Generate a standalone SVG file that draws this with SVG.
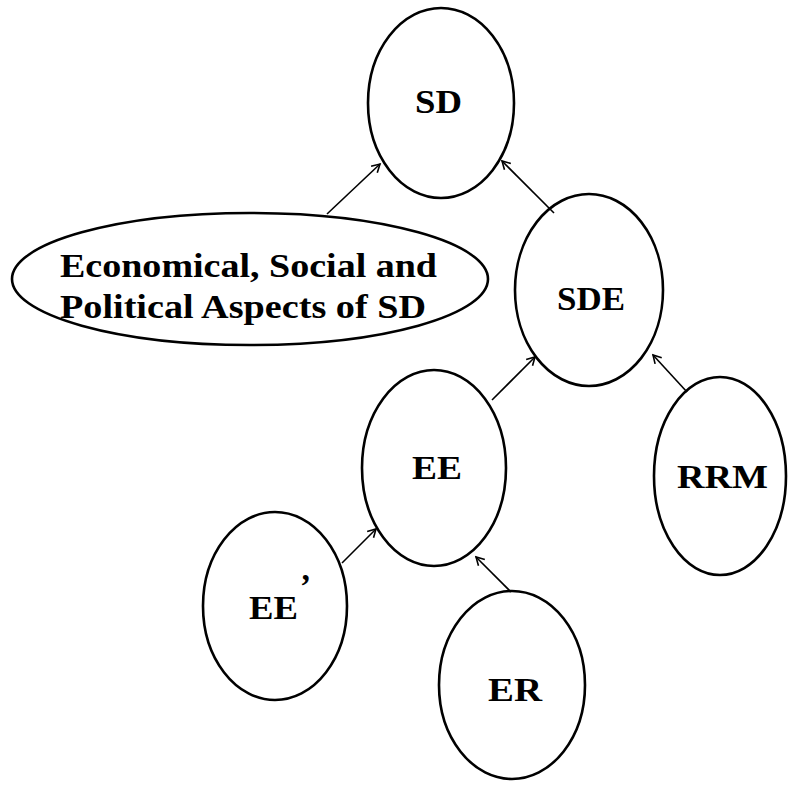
<svg xmlns="http://www.w3.org/2000/svg" width="788" height="785" viewBox="0 0 788 785">
<style>
.n{fill:#fff;stroke:#000;stroke-width:2.6}
.t{font-family:"Liberation Serif","Times New Roman",serif;font-weight:bold;font-size:33px;fill:#000}
.e{font-size:33px}
.c{stroke:#000;stroke-width:1.6;fill:none;marker-end:url(#a)}
</style>
<defs>
<marker id="a" markerWidth="12" markerHeight="12" refX="10" refY="6" orient="auto" markerUnits="userSpaceOnUse">
<path d="M2,1.5 L10,6 L2,10.5" fill="none" stroke="#000" stroke-width="1.6"/>
</marker>
</defs>
<rect width="788" height="785" fill="#fff"/>
<g id="SD"><ellipse class="n" cx="441" cy="103" rx="73" ry="95"/><text class="t" x="415" y="113" textLength="47" lengthAdjust="spacingAndGlyphs">SD</text></g>
<g id="ESP"><ellipse class="n" cx="250" cy="279" rx="238" ry="66"/><text class="t e" x="60" y="277" textLength="377" lengthAdjust="spacingAndGlyphs">Economical, Social and</text><text class="t e" x="60" y="318" textLength="366" lengthAdjust="spacingAndGlyphs">Political Aspects of SD</text></g>
<g id="SDE"><ellipse class="n" cx="589" cy="290" rx="74" ry="96"/><text class="t" x="557" y="310" textLength="68" lengthAdjust="spacingAndGlyphs">SDE</text></g>
<g id="EE"><ellipse class="n" cx="434" cy="468" rx="72" ry="98"/><text class="t" x="412" y="479" textLength="50" lengthAdjust="spacingAndGlyphs">EE</text></g>
<g id="RRM"><ellipse class="n" cx="720" cy="476" rx="66" ry="99"/><text class="t" x="677" y="488" textLength="91" lengthAdjust="spacingAndGlyphs">RRM</text></g>
<g id="EEp"><ellipse class="n" cx="275" cy="606" rx="72" ry="94"/><text class="t" x="249" y="619" textLength="49" lengthAdjust="spacingAndGlyphs">EE</text><text class="t" x="300" y="597" font-size="26">’</text></g>
<g id="ER"><ellipse class="n" cx="512" cy="685" rx="73" ry="94"/><text class="t" x="488" y="701" textLength="54" lengthAdjust="spacingAndGlyphs">ER</text></g>
<g id="connectors">
<line class="c" x1="327" y1="214" x2="380" y2="164"/>
<line class="c" x1="554" y1="213" x2="502" y2="161"/>
<line class="c" x1="492" y1="400" x2="535" y2="357"/>
<line class="c" x1="687" y1="392" x2="653" y2="355"/>
<line class="c" x1="342" y1="563" x2="376" y2="529"/>
<line class="c" x1="511" y1="592" x2="476" y2="557"/>
</g>
</svg>
